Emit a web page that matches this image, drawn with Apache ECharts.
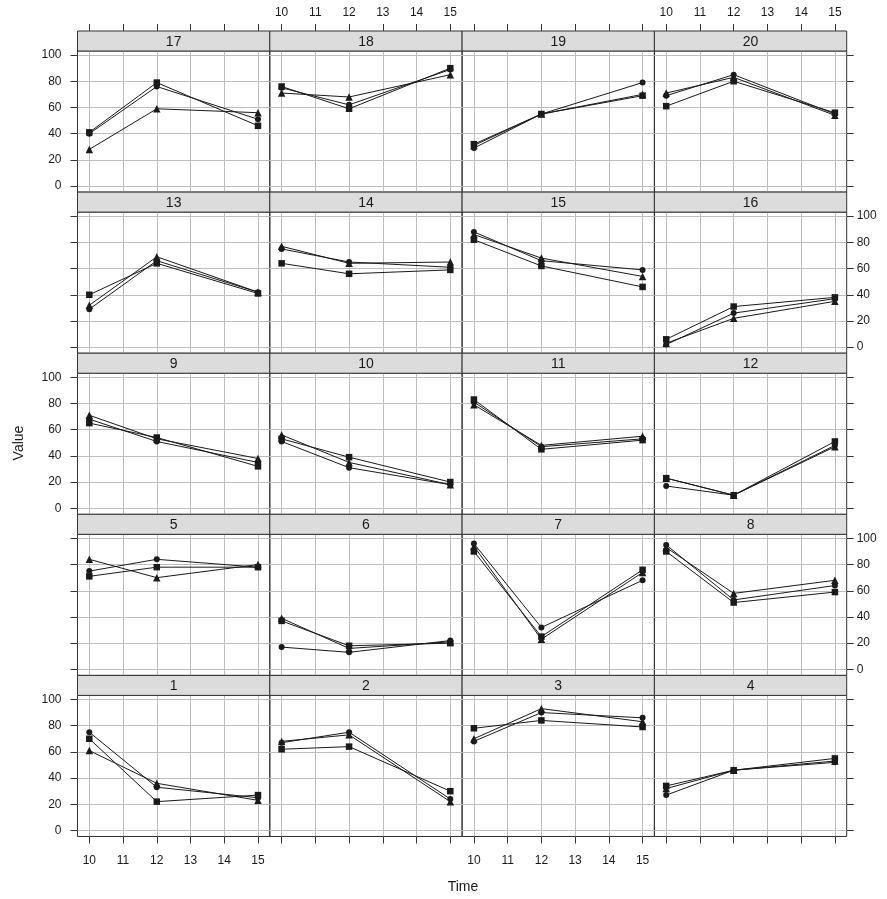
<!DOCTYPE html>
<html><head><meta charset="utf-8">
<script src="https://cdn.jsdelivr.net/npm/echarts@6/dist/echarts.min.js"></script>
<style>html,body{margin:0;padding:0;background:#fff}#c{width:887px;height:899px}</style>
</head><body><div id="c"></div>
<script>
// ---- data ----
const panelLabels = ['1','2','3','4','5','6','7','8','9','10','11','12','13','14','15','16','17','18','19','20'];
const times = [10, 12, 15];
// values at times 10, 12, 15 for each panel (1..20)
const circleVals = [
  [75,33,25],[67,75,24],[68,90,86],[27,46,52],
  [75,84,78],[17,13,22],[96,32,68],[95,53,64],
  [68,51,35],[51,31,18],[81,47,53],[17,10,48],
  [29,66,42],[75,65,61],[88,66,59],[2,26,37],
  [40,76,51],[75,62,89],[29,55,79],[69,85,55]
];
const squareVals = [
  [70,22,27],[62,64,30],[78,84,79],[34,46,55],
  [71,78,78],[37,18,20],[90,25,76],[90,51,59],
  [65,54,32],[53,39,20],[83,45,52],[23,10,51],
  [40,64,41],[64,56,59],[82,62,46],[6,31,38],
  [41,79,46],[76,59,90],[32,55,69],[61,80,56]
];
const triangleVals = [
  [61,36,23],[68,73,22],[70,93,83],[32,46,53],
  [84,70,80],[39,16,21],[94,23,74],[93,58,68],
  [71,53,38],[56,35,18],[79,48,55],[23,10,47],
  [32,69,42],[77,64,65],[86,68,54],[3,22,35],
  [28,59,56],[71,68,85],[31,55,70],[71,83,54]
];
const xTicks = [10, 11, 12, 13, 14, 15];
const yTicks = [0, 20, 40, 60, 80, 100];
const xTitle = 'Time';
const yTitle = 'Value';

// ---- layout ----
const L0 = 77.5, W = 192.3, T0 = 31, RH = 161.1, SH = 20;
const FONT = 'Liberation Sans, Arial, Helvetica, sans-serif';
const ink = '#1a1a1a';

const grids = [], xAxes = [], yAxes = [], series = [], graphics = [];
const seriesDefs = [
  {vals: circleVals, symbol: 'circle', size: 6},
  {vals: squareVals, symbol: 'rect', size: 6.5},
  {vals: triangleVals, symbol: 'triangle', size: 7.5}
];

for (let i = 0; i < panelLabels.length; i++) {
  const col = i % 4;
  const rt = 4 - Math.floor(i / 4);
  const left = L0 + col * W;
  const stripTop = T0 + rt * RH;
  grids.push({
    left: left, top: stripTop + SH, width: W, height: RH - SH,
    show: true, borderColor: '#333', borderWidth: 1, backgroundColor: 'transparent'
  });
  const topRow = rt === 0, botRow = rt === 4;
  xAxes.push({
    gridIndex: i, type: 'value', min: 9.65, max: 15.35,
    position: topRow ? 'top' : 'bottom', offset: topRow ? SH : 0,
    axisLine: {show: false, onZero: false},
    axisTick: {show: topRow || botRow, customValues: xTicks, length: 7, lineStyle: {color: '#333'}},
    axisLabel: {
      show: (topRow && col % 2 === 1) || (botRow && col % 2 === 0),
      customValues: xTicks, margin: topRow ? 12 : 18,
      color: ink, fontSize: 12, fontFamily: FONT
    },
    splitLine: {show: true, lineStyle: {color: '#bdbdbd', width: 1}}
  });
  const leftCol = col === 0, rightCol = col === 3;
  yAxes.push({
    gridIndex: i, type: 'value', min: -4.6, max: 103.1,
    position: rightCol ? 'right' : 'left',
    axisLine: {show: false, onZero: false},
    axisTick: {show: leftCol || rightCol, customValues: yTicks, length: 7, lineStyle: {color: '#333'}},
    axisLabel: {
      show: (leftCol && rt % 2 === 0) || (rightCol && rt % 2 === 1),
      customValues: yTicks, margin: leftCol ? 16 : 10,
      color: ink, fontSize: 12, fontFamily: FONT
    },
    splitLine: {show: true, lineStyle: {color: '#bdbdbd', width: 1}}
  });
  seriesDefs.forEach(function (d) {
    series.push({
      type: 'line', xAxisIndex: i, yAxisIndex: i,
      data: times.map(function (t, k) { return [t, d.vals[i][k]]; }),
      symbol: d.symbol, symbolSize: d.size, showSymbol: true,
      lineStyle: {color: ink, width: 1}, itemStyle: {color: ink},
      clip: false, silent: true, z: 3
    });
  });
  graphics.push({
    type: 'rect', z: 10,
    shape: {x: left, y: stripTop, width: W, height: SH},
    style: {fill: '#dcdcdc', stroke: '#333', lineWidth: 1}
  });
  graphics.push({
    type: 'text', z: 11,
    style: {
      text: panelLabels[i], x: left + W / 2, y: stripTop + SH / 2 + 1,
      textAlign: 'center', textVerticalAlign: 'middle', verticalAlign: 'middle',
      font: '14px ' + FONT, fill: ink
    }
  });
}
graphics.push({
  type: 'text', z: 11, rotation: Math.PI / 2, x: 19, y: 443,
  style: {text: yTitle, x: 0, y: 0, textAlign: 'center', textVerticalAlign: 'middle', verticalAlign: 'middle',
    font: '14px ' + FONT, fill: ink}
});
graphics.push({
  type: 'text', z: 11,
  style: {text: xTitle, x: 463, y: 887, textAlign: 'center', textVerticalAlign: 'middle', verticalAlign: 'middle',
    font: '14px ' + FONT, fill: ink}
});

const chart = echarts.init(document.getElementById('c'), null, {renderer: 'canvas'});
chart.setOption({
  animation: false,
  backgroundColor: '#ffffff',
  grid: grids, xAxis: xAxes, yAxis: yAxes, series: series,
  graphic: {elements: graphics}
});
</script>
</body></html>
